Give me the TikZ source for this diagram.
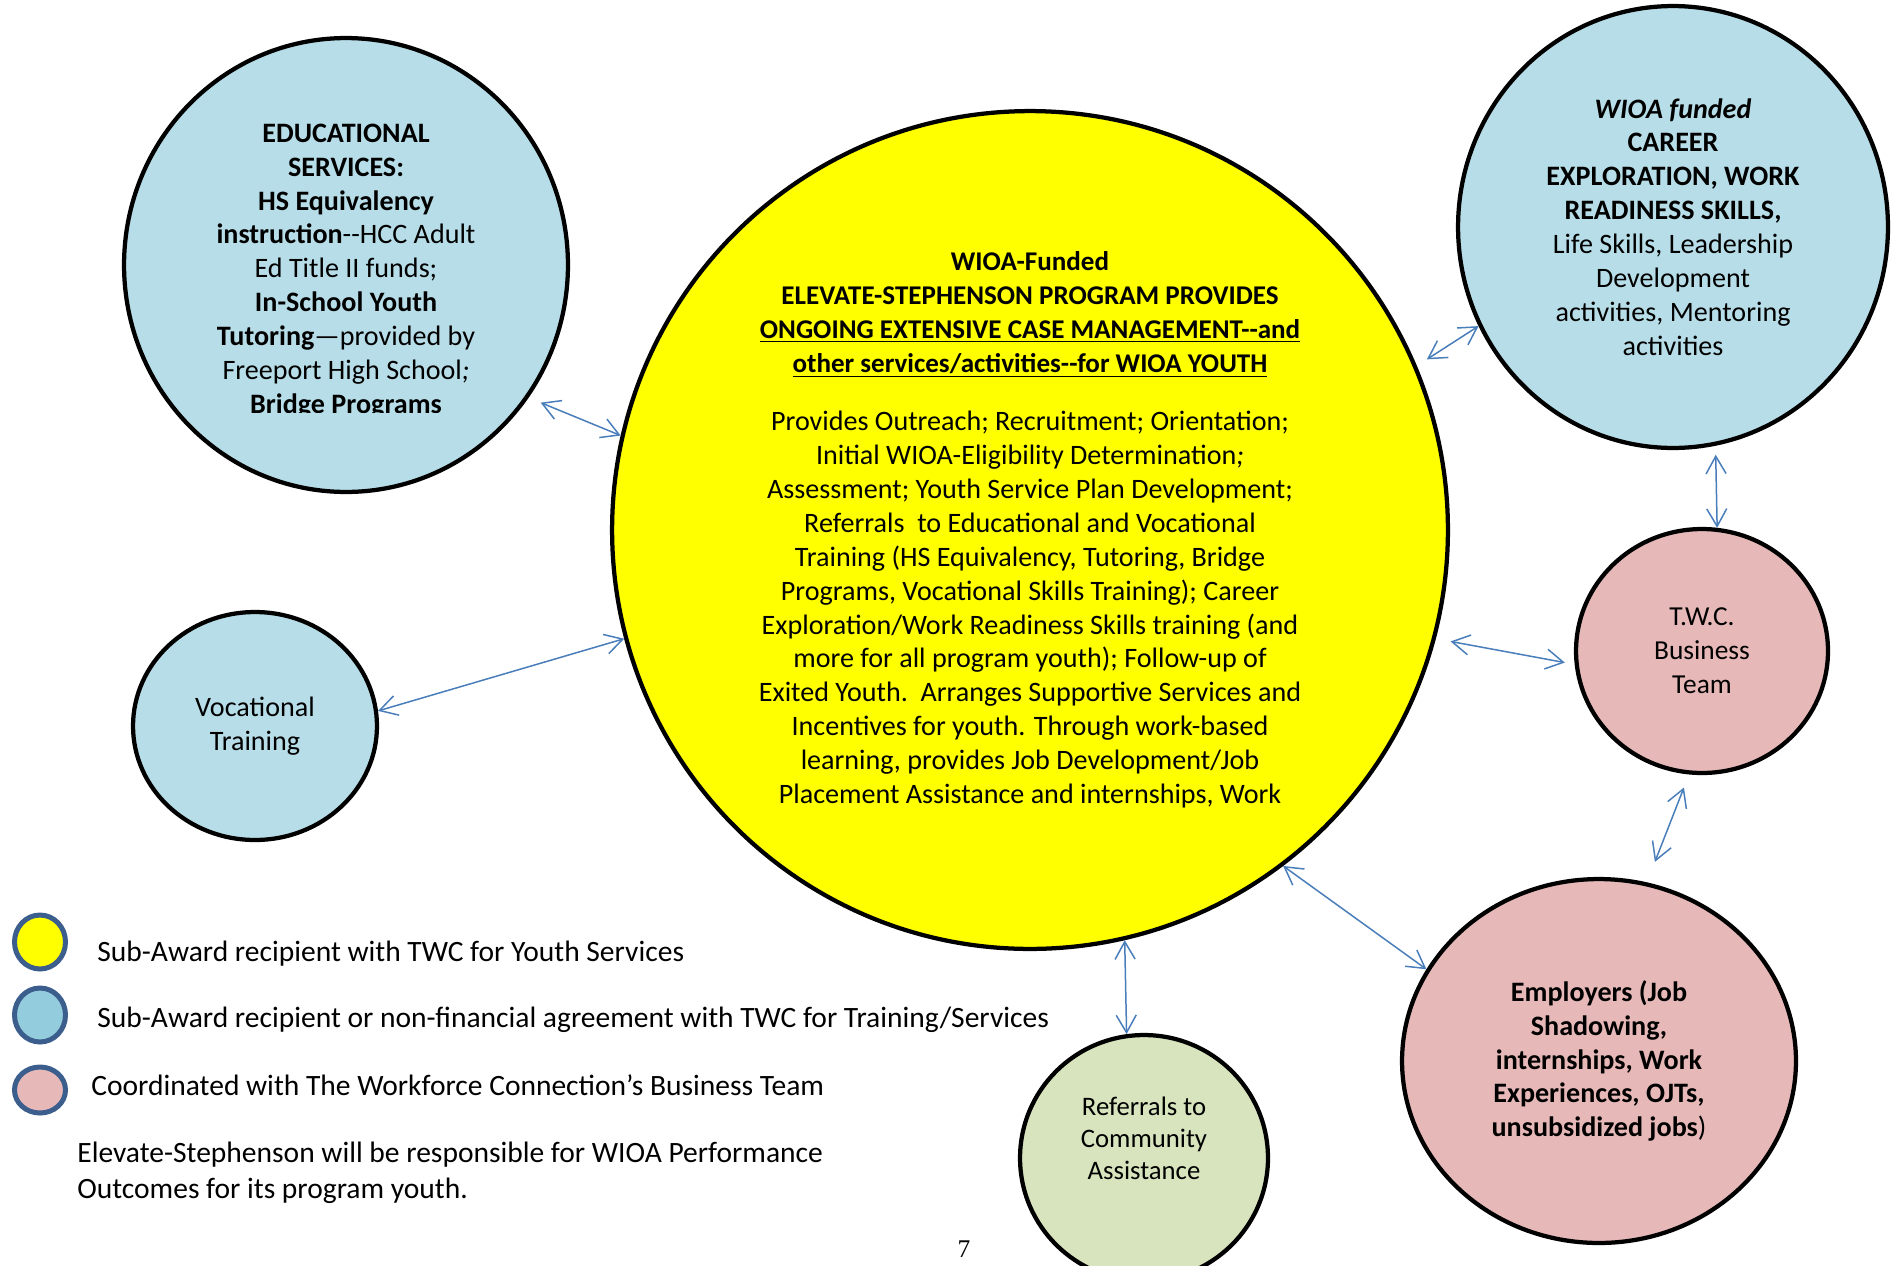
\documentclass[tikz,border=0pt]{standalone}
\usepackage{fontspec}
\setmainfont{Carlito}
\newfontfamily\pagefont{Liberation Serif}
\usetikzlibrary{shapes.geometric,arrows.meta}

\definecolor{eduBlue}{HTML}{B7DEE8}
\definecolor{keyBlue}{HTML}{93CDDD}
\definecolor{bizPink}{HTML}{E6B9B8}
\definecolor{aidGreen}{HTML}{D7E4BD}
\definecolor{hubYellow}{HTML}{FFFF00}
\definecolor{keyEdge}{HTML}{3B5E8C}
\definecolor{arrowBlue}{HTML}{4A7EBB}

% two plain hyphens, not an en dash
\newcommand\dhy{-\kern0pt-}
% heading lines of the middle circle
\newcommand\hubhead[1]{{\fontsize{15.4}{19.3}\selectfont\bfseries #1}}

\begin{document}
\begin{tikzpicture}[x=0.02cm,y=-0.02cm,
  >={Straight Barb[length=0.35cm,width=0.4cm]},
  bubble/.style={ellipse,draw,line width=0.085cm,inner sep=0pt,align=center,
    font=\fontsize{16}{19.3}\selectfont},
  key/.style={ellipse,draw=keyEdge,line width=0.1cm,inner sep=0pt,
    minimum width=1.02cm,minimum height=1.08cm},
  keytext/.style={anchor=base west,inner sep=0pt,align=left,
    font=\fontsize{16.8}{20}\selectfont},
  link/.style={every edge/.style={draw,<->,arrowBlue,line width=0.03cm}}]

  \useasboundingbox (0,0) rectangle (1895,1265);

  % the circles
  \node[bubble,fill=eduBlue,minimum width=8.88cm,minimum height=9.08cm] (Education) at (346,265) {};
  \begin{scope}
    \clip (100,20) rectangle (600,412);
    \node[align=center,inner sep=0pt,font=\fontsize{16}{19.3}\selectfont]
      (EducationText) at ([yshift=-0.12cm]Education.center)
      {\textbf{EDUCATIONAL}\\ \textbf{SERVICES:}\\ \textbf{HS Equivalency}\\
       \textbf{instruction}\dhy HCC Adult\\ Ed Title II funds;\\
       \textbf{In-School Youth}\\ \textbf{Tutoring}---provided by\\
       Freeport High School\textit{;}\\ \textbf{Bridge Programs}};
  \end{scope}

  \node[bubble,fill=hubYellow,minimum width=16.72cm,minimum height=16.76cm] (Elevate) at (1030,530)
    {\hubhead{WIOA-Funded}\\
     \hubhead{ELEVATE-STEPHENSON PROGRAM PROVIDES}\\
     \hubhead{\underline{ONGOING EXTENSIVE CASE MANAGEMENT\dhy and}}\\
     \hubhead{\underline{other services/activities\dhy for WIOA YOUTH}}\\[13.7pt]
     Provides Outreach; Recruitment; Orientation;\\
     Initial WIOA-Eligibility Determination\textit{;}\\
     Assessment; Youth Service Plan Development;\\
     Referrals\ \ to Educational and Vocational\\
     Training (HS Equivalency, Tutoring, Bridge\\
     Programs, Vocational Skills Training); Career\\
     Exploration/Work Readiness Skills training (and\\
     more for all program youth); Follow-up of\\
     Exited Youth.\ \ Arranges Supportive Services and\\
     Incentives for youth. Through work-based\\
     learning, provides Job Development/Job\\
     Placement Assistance and internships, Work};

  \node[bubble,fill=eduBlue,minimum width=8.6cm,minimum height=8.84cm] (Career) at (1673,227)
    {\textbf{\textit{WIOA funded}}\\ \textbf{CAREER}\\ \textbf{EXPLORATION, WORK}\\
     \textbf{READINESS SKILLS,}\\ Life Skills, Leadership\\ Development\\
     activities, Mentoring\\ activities};

  \node[bubble,fill=eduBlue,minimum width=4.88cm,minimum height=4.56cm] (Vocational) at (255,726)
    {Vocational\\ Training};

  \node[bubble,fill=bizPink,minimum width=5.04cm,minimum height=4.88cm,
    font=\fontsize{15.6}{19.3}\selectfont] (TWC) at (1702,651)
    {T.W.C.\\ Business\\ Team};

  \node[bubble,fill=bizPink,minimum width=7.88cm,minimum height=7.28cm] (Employers) at (1599,1061)
    {\textbf{Employers (Job}\\ \textbf{Shadowing,}\\ \textbf{internships, Work}\\
     \textbf{Experiences, OJTs,}\\ \textbf{unsubsidized jobs})};

  \node[bubble,fill=aidGreen,minimum width=4.96cm,minimum height=4.92cm,
    font=\fontsize{15.2}{18.4}\selectfont] (Referrals) at (1144,1158)
    {Referrals to\\ Community\\ Assistance\\[4pt] \mbox{}};

  % connectors
  \path[link]
    (Education.-36) edge[shorten <=0.26cm] (Elevate.167)
    (Vocational.7) edge (Elevate.195)
    (Elevate.23) edge[shorten <=0.24cm] (Career.207)
    (Career.-79) edge[shorten <=0.18cm] (TWC.83)
    (Elevate.-15) edge[shorten <=0.3cm,shorten >=0.2cm] (TWC.186)
    (TWC.264) edge[shorten <=0.28cm,shorten >=0.44cm] (Employers.75)
    (Elevate.-53) edge (Employers.152)
    (Elevate.-77) edge (Referrals.98);

  % key
  \node[key,fill=hubYellow] (KeyYouth) at (40,942) {};
  \node[key,fill=keyBlue] (KeyTraining) at (40,1015) {};
  \node[key,fill=bizPink,minimum height=0.92cm] (KeyBusiness) at (40,1090) {};
  \node[keytext] (KeyYouthText) at (97,961) {Sub-Award recipient with TWC for Youth Services};
  \node[keytext] (KeyTrainingText) at (97,1027) {Sub-Award recipient or non-financial agreement with TWC for Training/Services};
  \node[keytext] (KeyBusinessText) at (91,1095) {Coordinated with The Workforce Connection’s Business Team};
  \node[keytext] (Outcomes) at (77,1198)
    {Elevate-Stephenson will be responsible for WIOA Performance\\ Outcomes for its program youth.};

  \node[anchor=base,inner sep=0pt,font=\pagefont\fontsize{14.5}{17}\selectfont] (PageNo) at (964,1257) {7};
\end{tikzpicture}
\end{document}
